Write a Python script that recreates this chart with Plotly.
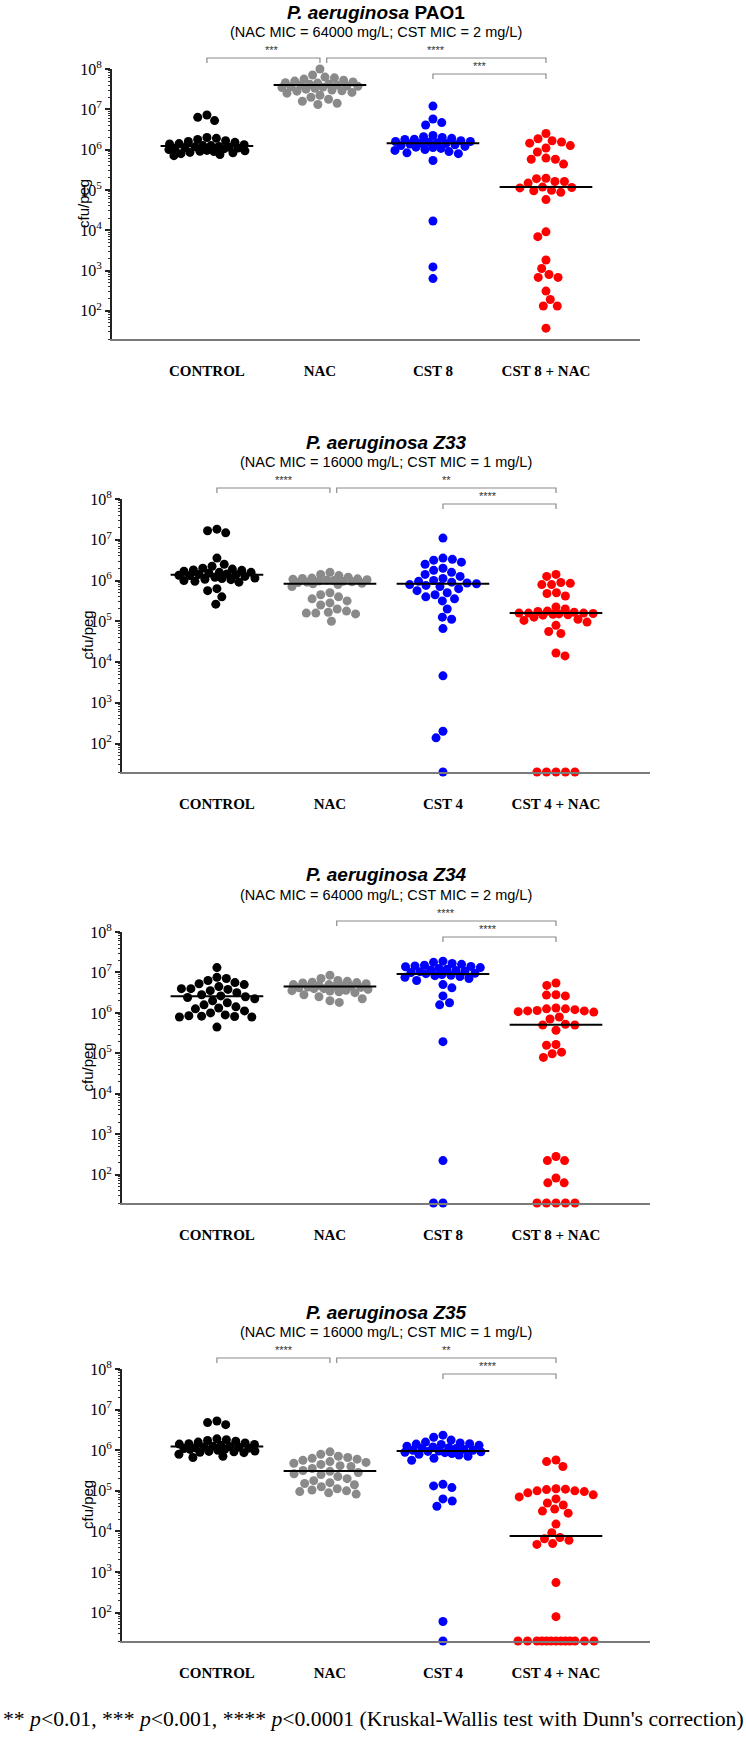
import math
import plotly.graph_objects as go

W, H = 746, 1748
ND = math.log10(20)  # not detected -> drawn on the detection floor

##### Data (log10 cfu/peg) #####

titles = [
    "<b><i>P. aeruginosa</i> PAO1</b>",
    "<b><i>P. aeruginosa Z33</i></b>",
    "<b><i>P. aeruginosa Z34</i></b>",
    "<b><i>P. aeruginosa Z35</i></b>",
]
subtitles = [
    "(NAC MIC = 64000 mg/L; CST MIC = 2 mg/L)",
    "(NAC MIC = 16000 mg/L; CST MIC = 1 mg/L)",
    "(NAC MIC = 64000 mg/L; CST MIC = 2 mg/L)",
    "(NAC MIC = 16000 mg/L; CST MIC = 1 mg/L)",
]
groups_cst8 = ["CONTROL", "NAC", "CST 8", "CST 8 + NAC"]
groups_cst4 = ["CONTROL", "NAC", "CST 4", "CST 4 + NAC"]
group_colors = ["#000000", "#8a8a8a", "#0000ff", "#ff0000"]

pao1_control = [6.86, 6.8, 6.72, 6.3, 6.28, 6.25, 6.22, 6.2, 6.18, 6.15, 6.14, 6.12, 6.1, 6.1, 6.08, 6.07,
                6.06, 6.05, 6.04, 6.03, 6.02, 6.0, 5.98, 5.97, 5.96, 5.95, 5.93, 5.92, 5.9, 5.88, 5.85]
pao1_nac = [8.0, 7.85, 7.8, 7.78, 7.75, 7.72, 7.7, 7.68, 7.66, 7.65, 7.63, 7.62, 7.6, 7.6, 7.58, 7.57,
            7.56, 7.55, 7.54, 7.52, 7.5, 7.48, 7.46, 7.45, 7.42, 7.4, 7.35, 7.3, 7.25, 7.2, 7.15, 7.12]
pao1_cst = [7.08, 6.76, 6.67, 6.61, 6.35, 6.32, 6.3, 6.28, 6.26, 6.25, 6.22, 6.2, 6.2, 6.18, 6.17, 6.16,
            6.15, 6.14, 6.12, 6.1, 6.08, 6.06, 6.05, 6.03, 6.0, 5.98, 5.95, 5.92, 5.9, 5.73, 4.23, 3.09, 2.8]
pao1_cstnac = [6.40, 6.27, 6.22, 6.19, 6.16, 6.10, 6.04, 5.94, 5.79, 5.76, 5.76, 5.64, 5.29, 5.28, 5.21, 5.21,
               5.17, 5.07, 5.06, 5.05, 4.99, 4.98, 4.94, 4.76, 3.96, 3.84, 3.26, 3.05, 2.90, 2.83, 2.83, 2.49,
               2.28, 2.12, 2.12, 1.57]

z33_control = [7.26, 7.22, 7.17, 6.55, 6.4, 6.35, 6.3, 6.28, 6.26, 6.25, 6.23, 6.2, 6.2, 6.18, 6.16, 6.15,
               6.14, 6.13, 6.12, 6.1, 6.08, 6.06, 6.05, 6.03, 6.02, 6.0, 5.98, 5.96, 5.8, 5.75, 5.6, 5.42]
z33_nac = [6.2, 6.15, 6.12, 6.08, 6.06, 6.05, 6.04, 6.03, 6.02, 6.01, 6.0, 5.99, 5.98, 5.97, 5.96, 5.95,
           5.93, 5.92, 5.9, 5.85, 5.7, 5.65, 5.6, 5.55, 5.5, 5.45, 5.4, 5.3, 5.25, 5.22, 5.2, 5.2, 5.18, 5.0]
z33_cst = [7.04, 6.55, 6.52, 6.5, 6.45, 6.4, 6.3, 6.25, 6.2, 6.15, 6.1, 6.05, 6.0, 5.98, 5.96, 5.94, 5.92,
           5.9, 5.88, 5.85, 5.8, 5.75, 5.7, 5.65, 5.6, 5.55, 5.5, 5.3, 5.1, 5.05, 4.82, 3.66, 2.3, 2.14, ND]
z33_cstnac = [6.15, 6.1, 5.95, 5.93, 5.9, 5.9, 5.7, 5.68, 5.62, 5.35, 5.3, 5.25, 5.24, 5.22, 5.2, 5.2, 5.2,
              5.19, 5.18, 5.17, 5.16, 5.15, 5.1, 5.05, 5.02, 4.98, 4.9, 4.75, 4.7, 4.22, 4.15,
              ND, ND, ND, ND, ND]

z34_control = [7.12, 6.88, 6.85, 6.8, 6.75, 6.72, 6.7, 6.65, 6.6, 6.6, 6.58, 6.55, 6.5, 6.45, 6.42, 6.4,
               6.38, 6.35, 6.3, 6.25, 6.2, 6.15, 6.12, 6.1, 6.05, 6.0, 5.95, 5.93, 5.92, 5.91, 5.9, 5.9, 5.65]
z34_nac = [6.93, 6.85, 6.8, 6.78, 6.76, 6.75, 6.74, 6.72, 6.7, 6.7, 6.68, 6.67, 6.66, 6.65, 6.64, 6.63,
           6.62, 6.6, 6.6, 6.58, 6.56, 6.55, 6.54, 6.52, 6.5, 6.45, 6.4, 6.35, 6.3, 6.26]
z34_cst = [7.28, 7.25, 7.22, 7.2, 7.18, 7.16, 7.15, 7.14, 7.12, 7.1, 7.08, 7.06, 7.05, 7.03, 7.02, 7.0,
           6.98, 6.97, 6.95, 6.93, 6.92, 6.9, 6.88, 6.85, 6.8, 6.7, 6.62, 6.42, 6.25, 6.2, 5.29, 2.35, ND, ND]
z34_cstnac = [6.74, 6.68, 6.45, 6.44, 6.42, 6.12, 6.1, 6.1, 6.08, 6.06, 6.05, 6.05, 6.03, 6.02, 5.9, 5.85,
              5.72, 5.7, 5.7, 5.57, 5.22, 5.2, 5.03, 4.99, 4.9, 2.45, 2.35, 2.35, 1.92, 1.8, 1.8,
              ND, ND, ND, ND, ND]

z35_control = [6.72, 6.68, 6.63, 6.28, 6.26, 6.24, 6.22, 6.2, 6.18, 6.16, 6.15, 6.14, 6.12, 6.1, 6.09, 6.08,
               6.07, 6.06, 6.05, 6.04, 6.03, 6.02, 6.0, 5.98, 5.97, 5.96, 5.95, 5.94, 5.9, 5.85, 5.82]
z35_nac = [5.96, 5.9, 5.85, 5.82, 5.8, 5.78, 5.75, 5.72, 5.7, 5.68, 5.65, 5.62, 5.6, 5.55, 5.5, 5.48, 5.45,
           5.42, 5.4, 5.35, 5.3, 5.25, 5.2, 5.18, 5.15, 5.1, 5.05, 5.02, 5.0, 4.98, 4.95, 4.92]
z35_cst = [6.37, 6.32, 6.25, 6.2, 6.18, 6.16, 6.15, 6.14, 6.12, 6.1, 6.08, 6.06, 6.05, 6.04, 6.02, 6.0, 6.0,
           5.98, 5.97, 5.96, 5.95, 5.94, 5.92, 5.9, 5.88, 5.85, 5.8, 5.75, 5.16, 5.12, 5.08, 4.8, 4.75, 4.62,
           1.78, ND]
z35_cstnac = [5.76, 5.72, 5.6, 5.05, 5.04, 5.03, 5.0, 5.0, 4.98, 4.95, 4.9, 4.85, 4.8, 4.7, 4.65, 4.55, 4.5,
              4.45, 4.18, 3.97, 3.85, 3.82, 3.78, 3.7, 3.68, 2.74, 1.9,
              ND, ND, ND, ND, ND, ND, ND, ND, ND, ND, ND, ND, ND]

medians = [
    [6.09, 7.60, 6.16, 5.07],
    [6.14, 5.92, 5.92, 5.20],
    [6.41, 6.65, 6.96, 5.71],
    [6.09, 5.49, 5.98, 3.89],
]

# (from group, to group, stars, row) -- row 0 = upper bracket, row 1 = lower
sig_pao1 = [(0, 1, "***", 0), (1, 3, "****", 0), (2, 3, "***", 1)]
sig_z33 = [(0, 1, "****", 0), (1, 3, "**", 0), (2, 3, "****", 1)]
sig_z34 = [(1, 3, "****", 0), (2, 3, "****", 1)]
sig_z35 = [(0, 1, "****", 0), (1, 3, "**", 0), (2, 3, "****", 1)]

panels = [
    (groups_cst8, [pao1_control, pao1_nac, pao1_cst, pao1_cstnac], sig_pao1),
    (groups_cst4, [z33_control, z33_nac, z33_cst, z33_cstnac], sig_z33),
    (groups_cst8, [z34_control, z34_nac, z34_cst, z34_cstnac], sig_z34),
    (groups_cst4, [z35_control, z35_nac, z35_cst, z35_cstnac], sig_z35),
]

##### Layout geometry (pixels) #####

# x of y-axis, y of 10^8, y of x-axis
boxes = [(112, 69, 339), (122, 499, 772), (122, 932, 1203), (122, 1369, 1641)]
AXW = 528
XR = [-0.84, 3.832]
YR = [ND, 8]
ytitle_x = [83, 87, 87, 87]
minor_vals = [k * 10 ** e for e in range(1, 8) for k in range(2, 10) if k * 10 ** e >= 20]


def swarm(vals, ppd, ppu, d=9.5, max_px=38):
    # simple beeswarm: each point goes to the free spot nearest the centre line,
    # dense rows are squeezed into the gaps (points overlap like in GraphPad)
    order = sorted(range(len(vals)), key=lambda k: -vals[k])
    placed = []
    off = [0.0] * len(vals)
    for cnt, k in enumerate(order):
        y = vals[k] * ppd
        near = [(px, py) for px, py in placed if abs(py - y) < d]
        cands = {0.0}
        for px, py in near:
            dx = math.sqrt(d * d - (py - y) ** 2)
            cands.add(px + dx)
            cands.add(px - dx)
        sign = 1 if cnt % 2 else -1
        best = None
        for c in sorted(cands, key=lambda c: (round(abs(c), 6), sign * c)):
            if abs(c) > max_px:
                continue
            if all((c - px) ** 2 + (y - py) ** 2 >= d * d - 1e-6 for px, py in near):
                best = c
                break
        if best is None:
            best = max(range(-max_px, max_px + 1),
                       key=lambda c: (min((c - px) ** 2 + (y - py) ** 2 for px, py in near), -abs(c)))
        placed.append((best, y))
        off[k] = best / ppu
    return off


fig = go.Figure()
annotations = []
shapes = []

for p, (groups, data, sigs) in enumerate(panels):
    n = p + 1
    xa = "x" if n == 1 else f"x{n}"
    ya = "y" if n == 1 else f"y{n}"
    xl, top, bot = boxes[p]
    ph = bot - top
    ppd = ph / (YR[1] - YR[0])
    ppu = AXW / (XR[1] - XR[0])

    for i, vals in enumerate(data):
        offs = swarm(vals, ppd, ppu)
        fig.add_trace(go.Scatter(
            x=[i + o for o in offs], y=[10 ** v for v in vals],
            mode="markers", xaxis=xa, yaxis=ya, cliponaxis=False,
            marker=dict(size=9, color=group_colors[i], line=dict(width=0)),
            showlegend=False, hoverinfo="skip",
        ))
        m = medians[p][i]
        fig.add_trace(go.Scatter(
            x=[i - 0.41, i + 0.41], y=[10 ** m, 10 ** m],
            mode="lines", xaxis=xa, yaxis=ya, cliponaxis=False,
            line=dict(color="black", width=2),
            showlegend=False, hoverinfo="skip",
        ))

    fig.update_layout({
        f"xaxis{'' if n == 1 else n}": dict(
            domain=[xl / W, (xl + AXW) / W], range=XR, anchor=ya, automargin=False,
            tickmode="array", tickvals=[0, 1, 2, 3],
            ticktext=[f"<b>{g}</b>" for g in groups],
            ticks="", ticklabelstandoff=17,
            tickfont=dict(family="Liberation Serif", size=15, color="black"),
            showline=True, linecolor="#7a7a7a", linewidth=2,
            showgrid=False, zeroline=False, fixedrange=True,
        ),
        f"yaxis{'' if n == 1 else n}": dict(
            domain=[1 - bot / H, 1 - top / H], type="log", range=YR, anchor=xa, automargin=False,
            tickmode="array", tickvals=[10 ** e for e in range(2, 9)],
            ticktext=[f"10<sup>{e}</sup>" for e in range(2, 9)],
            ticks="outside", ticklen=5, tickwidth=1.5, tickcolor="#222",
            minor=dict(tickmode="array", tickvals=minor_vals, ticks="outside",
                       ticklen=2.5, tickwidth=1, tickcolor="#333", showgrid=False),
            tickfont=dict(family="Liberation Serif", size=16, color="black"),
            showline=True, linecolor="#222", linewidth=2,
            showgrid=False, zeroline=False, fixedrange=True,
        ),
    })

    xd = f"{xa} domain"
    yd = f"{ya} domain"

    def cx(i):
        return (i - XR[0]) / (XR[1] - XR[0])

    # titles
    annotations.append(dict(text=titles[p], xref=xd, yref=yd, x=0.5, y=1 + 57 / ph,
                            showarrow=False, yanchor="middle",
                            font=dict(family="Liberation Sans", size=19, color="black")))
    annotations.append(dict(text=subtitles[p], xref=xd, yref=yd, x=0.5, y=1 + 37 / ph,
                            showarrow=False, yanchor="middle",
                            font=dict(family="Liberation Sans", size=14.5, color="black")))
    annotations.append(dict(text="cfu/peg", xref="paper", yref=yd, x=ytitle_x[p] / W, y=0.5,
                            textangle=-90, showarrow=False, xanchor="center", yanchor="middle",
                            font=dict(family="Liberation Sans", size=15, color="black")))

    # significance brackets
    for (a, b, stars, row) in sigs:
        x0 = cx(a + (0.06 if a == 1 and row == 0 else 0))
        x1 = cx(b)
        yb = 1 + (11 if row == 0 else -5) / ph
        yt = yb - 5 / ph
        shapes.append(dict(type="path", xref=xd, yref=yd,
                           path=f"M {x0},{yt} L {x0},{yb} L {x1},{yb} L {x1},{yt}",
                           line=dict(color="#8a8a8a", width=1.2)))
        annotations.append(dict(text=stars, xref=xd, yref=yd, x=(x0 + x1) / 2, y=yb + 8 / ph,
                                showarrow=False, yanchor="middle",
                                font=dict(family="Liberation Sans", size=11, color="#333")))

annotations.append(dict(
    text="** <i>p</i>&lt;0.01, *** <i>p</i>&lt;0.001, **** <i>p</i>&lt;0.0001 "
         "(Kruskal-Wallis test with Dunn's correction)",
    xref="paper", yref="paper", x=0.5, y=1 - 1719 / H, showarrow=False,
    xanchor="center", yanchor="middle",
    font=dict(family="Liberation Serif", size=21.7, color="black")))

fig.update_layout(
    width=W, height=H,
    margin=dict(l=0, r=0, t=0, b=0, autoexpand=False),
    paper_bgcolor="white", plot_bgcolor="white",
    annotations=annotations, shapes=shapes,
    showlegend=False,
)

# the page body has a default 8px margin; drop it so pixels line up
fig.write_html("out.html", config={"displayModeBar": False},
               post_script="document.body.style.margin = '0';")
